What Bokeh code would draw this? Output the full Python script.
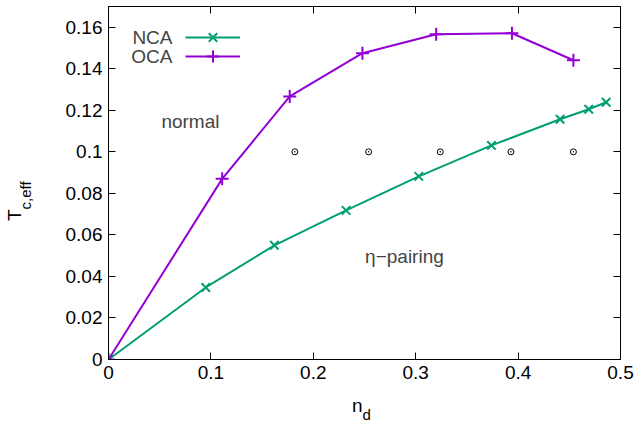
from bokeh.plotting import figure
from bokeh.models import Range1d, LinearAxis, Label, Legend, LegendItem, FixedTicker, Div
from bokeh.layouts import row, column
from bokeh.embed import file_html
from bokeh.resources import INLINE

nca_x = [0.0, 0.095, 0.162, 0.232, 0.303, 0.374, 0.441, 0.469, 0.486]
nca_y = [0.0, 0.0347, 0.0550, 0.0718, 0.0882, 0.1031, 0.1157, 0.1205, 0.1239]
oca_x = [0.0, 0.111, 0.177, 0.248, 0.320, 0.394, 0.454]
oca_y = [0.0, 0.0870, 0.1267, 0.1475, 0.1566, 0.1571, 0.1441]
dot_x = [0.182, 0.254, 0.324, 0.393, 0.454]
dot_y = [0.1, 0.1, 0.1, 0.1, 0.1]
x_ticks = [0, 0.1, 0.2, 0.3, 0.4, 0.5]
y_ticks = [0, 0.02, 0.04, 0.06, 0.08, 0.1, 0.12, 0.14, 0.16]
series_names = ["NCA", "OCA"]
region_names = ["normal", "η−pairing"]

GREEN = "#009e73"
PURPLE = "#9400d3"
FONT = "Liberation Sans"
FS = "19px"

p = figure(width=594, height=392, output_backend="svg", toolbar_location=None,
           x_range=Range1d(0, 0.5), y_range=Range1d(0, 0.17),
           frame_width=512, frame_height=353,
           min_border_left=68, min_border_right=14, min_border_top=6, min_border_bottom=33)
p.title.visible = False
p.xgrid.visible = False
p.ygrid.visible = False
p.outline_line_color = "black"
p.outline_line_width = 1
p.background_fill_color = "white"
p.border_fill_color = "white"

def style(ax, labels=True):
    ax.major_tick_in = 7
    ax.major_tick_out = 0
    ax.minor_tick_in = 0
    ax.minor_tick_out = 0
    ax.axis_line_color = "black"
    ax.major_tick_line_color = "black"
    ax.major_label_text_font = FONT
    ax.major_label_text_font_size = FS
    ax.major_label_text_color = "black"
    ax.major_label_standoff = 6
    if not labels:
        ax.major_label_text_alpha = 0

p.xaxis.ticker = FixedTicker(ticks=x_ticks)
p.yaxis.ticker = FixedTicker(ticks=y_ticks)
p.xaxis.major_label_overrides = {0: "0", 0.1: "0.1", 0.2: "0.2", 0.3: "0.3", 0.4: "0.4", 0.5: "0.5"}
p.yaxis.major_label_overrides = {0: "0", 0.1: "0.1"}
style(p.xaxis[0])
style(p.yaxis[0])

top = LinearAxis(ticker=FixedTicker(ticks=x_ticks), major_label_overrides={t: "" for t in x_ticks})
right = LinearAxis(ticker=FixedTicker(ticks=y_ticks), major_label_overrides={t: "" for t in y_ticks})
style(top, False)
style(right, False)
top.major_label_standoff = 0
right.major_label_standoff = 0
p.add_layout(top, "above")
p.add_layout(right, "right")

l1 = p.line(nca_x, nca_y, line_color=GREEN, line_width=2)
m1 = p.scatter(nca_x, nca_y, marker="x", size=12, line_color=GREEN, line_width=2)
l2 = p.line(oca_x, oca_y, line_color=PURPLE, line_width=2)
m2 = p.scatter(oca_x, oca_y, marker="cross", size=13, line_color=PURPLE, line_width=2)
p.scatter(dot_x, dot_y, marker="circle_dot", size=6, line_color="black", fill_color=None, line_width=1)

# gnuplot-style key: name on the left, sample on the right (one small legend per entry)
for i, (name, rends) in enumerate(zip(series_names, [[l1, m1], [l2, m2]])):
    lg = Legend(items=[LegendItem(label=" ", renderers=rends)],
                location=(77, 307 - 19 * i), border_line_color=None, background_fill_alpha=0,
                label_text_font=FONT, label_text_font_size=FS, glyph_width=55,
                spacing=0, padding=0, margin=0, label_height=19, glyph_height=30,
                label_standoff=0)
    p.add_layout(lg)
    p.add_layout(Label(x=64, y=322 - 19 * i, x_units="screen", y_units="screen", text=name,
                       text_font=FONT, text_font_size=FS, text_align="right",
                       text_baseline="middle"))

p.add_layout(Label(x=0.08, y=0.1147, text=region_names[0], text_font=FONT, text_font_size=FS,
                   text_align="center", text_baseline="middle"))
p.add_layout(Label(x=0.289, y=0.0496, text=region_names[1], text_font=FONT, text_font_size=FS,
                   text_align="center", text_baseline="middle"))

base = "font-family:'Liberation Sans',Arial,sans-serif; font-size:19px; line-height:19px; color:black; white-space:nowrap;"
ydiv = Div(width=40, height=392, margin=0,
           text=('<div style="position:absolute; left:5px; top:221px; transform-origin:0 0; '
                 'transform:rotate(-90deg); ' + base + '">T<span style="position:relative; '
                 'top:10px; font-size:15px;">c,eff</span></div>'))
xdiv = Div(width=634, height=31, margin=0,
           text=('<div style="position:absolute; left:352px; top:4px; ' + base + '">n'
                 '<span style="position:relative; top:8px; font-size:15px;">d</span></div>'))

layout = column(row(ydiv, p, spacing=0), xdiv, spacing=0)
open("out.html", "w").write(file_html(layout, INLINE))
